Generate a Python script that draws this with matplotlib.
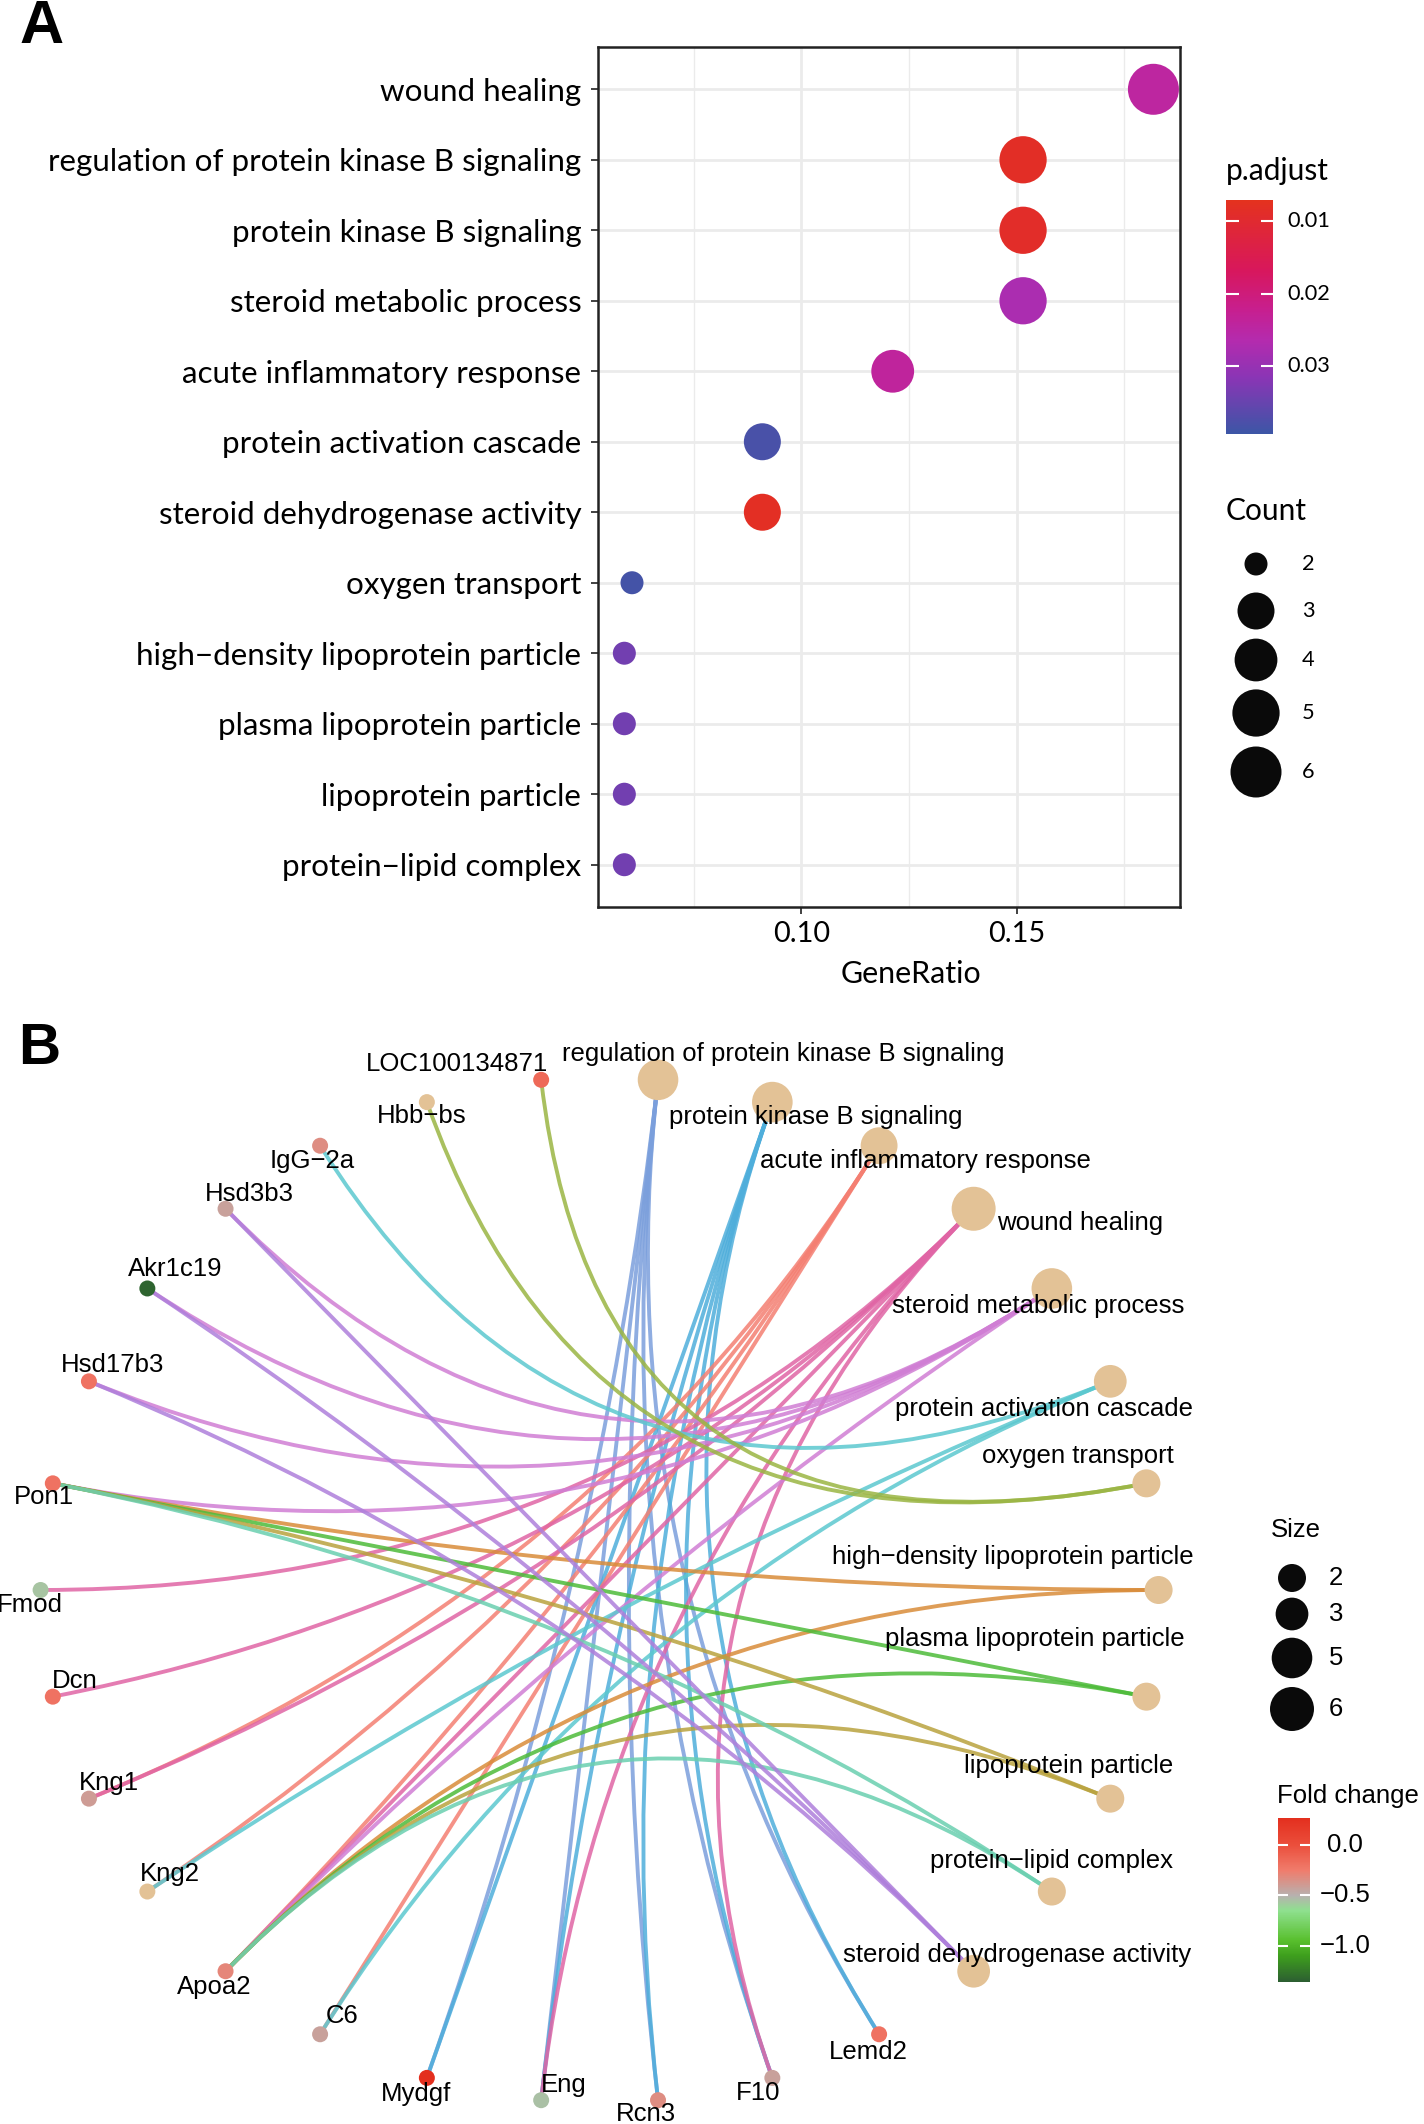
import numpy as np
import matplotlib
matplotlib.use("Agg")
import matplotlib.pyplot as plt
from matplotlib.colors import LinearSegmentedColormap, Normalize
from matplotlib.path import Path
from matplotlib.patches import PathPatch
import matplotlib.cm as cm

W, H, DPI = 1424, 2124, 100

# ---------------- data ----------------
# enrichment table (panel A, top to bottom)
description = ["wound healing",
               "regulation of protein kinase B signaling",
               "protein kinase B signaling",
               "steroid metabolic process",
               "acute inflammatory response",
               "protein activation cascade",
               "steroid dehydrogenase activity",
               "oxygen transport",
               "high\u2212density lipoprotein particle",
               "plasma lipoprotein particle",
               "lipoprotein particle",
               "protein\u2212lipid complex"]
gene_ratio = ["6/33", "5/33", "5/33", "5/33", "4/33", "3/33", "3/33", "2/33",
              "2/34", "2/34", "2/34", "2/34"]
p_adjust = [0.0245, 0.0085, 0.0088, 0.0275, 0.0240, 0.0380, 0.0082, 0.0385,
            0.0340, 0.0340, 0.0340, 0.0340]
gene_id = ["Fmod/Dcn/Kng1/Apoa2/Eng/F10",
           "Mydgf/Eng/Rcn3/F10/Lemd2",
           "Mydgf/Eng/Rcn3/F10/Lemd2",
           "Hsd3b3/Akr1c19/Hsd17b3/Pon1/Apoa2",
           "Kng1/Kng2/Apoa2/C6",
           "IgG-2a/Kng2/C6",
           "Hsd3b3/Akr1c19/Hsd17b3",
           "LOC100134871/Hbb-bs",
           "Pon1/Apoa2",
           "Pon1/Apoa2",
           "Pon1/Apoa2",
           "Pon1/Apoa2"]

# network (panel B): node order around the circle
cnet_terms = ["regulation of protein kinase B signaling",
              "protein kinase B signaling",
              "acute inflammatory response",
              "wound healing",
              "steroid metabolic process",
              "protein activation cascade",
              "oxygen transport",
              "high\u2212density lipoprotein particle",
              "plasma lipoprotein particle",
              "lipoprotein particle",
              "protein\u2212lipid complex",
              "steroid dehydrogenase activity"]
cnet_genes = ["Lemd2", "F10", "Rcn3", "Eng", "Mydgf", "C6", "Apoa2", "Kng2",
              "Kng1", "Dcn", "Fmod", "Pon1", "Hsd17b3", "Akr1c19", "Hsd3b3",
              "IgG-2a", "Hbb-bs", "LOC100134871"]
fold_change = [-0.20, -0.43, -0.33, -0.55, 0.27, -0.43, -0.30, np.nan,
               -0.40, -0.20, -0.56, -0.20, -0.20, -1.33, -0.43,
               -0.33, np.nan, -0.15]

# ---------------- styles ----------------
edge_colors = {
    "regulation of protein kinase B signaling": "#7B9FDC",
    "protein kinase B signaling": "#4FAEDB",
    "acute inflammatory response": "#F47F72",
    "wound healing": "#E065A5",
    "steroid metabolic process": "#D07ED4",
    "protein activation cascade": "#5CC8CF",
    "oxygen transport": "#9AB543",
    "high\u2212density lipoprotein particle": "#D98C3A",
    "plasma lipoprotein particle": "#4DBB3A",
    "lipoprotein particle": "#B9A23E",
    "protein\u2212lipid complex": "#6ACFB0",
    "steroid dehydrogenase activity": "#AE7FDB",
}
# label offsets in pixels (dx right, dy down)
term_label_off = {
    "regulation of protein kinase B signaling": (125, -26),
    "protein kinase B signaling": (43, 15),
    "acute inflammatory response": (46, 15),
    "wound healing": (106, 14),
    "steroid metabolic process": (-14, 18),
    "protein activation cascade": (-66, 28),
    "oxygen transport": (-69, -27),
    "high\u2212density lipoprotein particle": (-146, -33),
    "plasma lipoprotein particle": (-112, -58),
    "lipoprotein particle": (-42, -33),
    "protein\u2212lipid complex": (0, -31),
    "steroid dehydrogenase activity": (43, -16),
}
gene_label_off = {
    "LOC100134871": (-84, -16), "Hbb-bs": (-5, 14), "IgG-2a": (-8, 15),
    "Hsd3b3": (24, -15), "Akr1c19": (28, -19), "Hsd17b3": (24, -16),
    "Pon1": (-9, 14), "Fmod": (-11, 15), "Dcn": (22, -16), "Kng1": (20, -16),
    "Kng2": (23, -18), "Apoa2": (-11, 16), "C6": (22, -18), "Mydgf": (-11, 16),
    "Eng": (23, -15), "Rcn3": (-12, 14), "F10": (-14, 15), "Lemd2": (-11, 18),
}
BEIGE = "#E3C296"

fig = plt.figure(figsize=(W / DPI, H / DPI), dpi=DPI)
fig.patch.set_facecolor("white")
renderer = fig.canvas.get_renderer()


def px_axes(x0, y0, x1, y1):
    return fig.add_axes([x0 / W, 1 - y1 / H, (x1 - x0) / W, (y1 - y0) / H])


def fit(text, family, target, weight="normal"):
    t = fig.text(0, 0, text, fontsize=20, family=family, weight=weight)
    w = t.get_window_extent(renderer=renderer).width
    t.remove()
    return 20 * target / w


def ftext(x, y, s, **kw):
    return fig.text(x / W, 1 - y / H, s, **kw)


FA = ["Lato", "DejaVu Sans"]
FB = ["Liberation Sans", "DejaVu Sans"]

fs_ylab = fit("regulation of protein kinase B signaling", FA, 535)
fs_xtick = fit("0.10", FA, 57)
fs_xtitle = fit("GeneRatio", FA, 141)
fs_legt = fit("p.adjust", FA, 103)
fs_legl = fit("0.01", FA, 43)
fs_B = fit("LOC100134871", FB, 182)

# ---------------- panel A ----------------
count = np.array([len(g.split("/")) for g in gene_id])
ratio = np.array([int(a) / int(b) for a, b in (r.split("/") for r in gene_ratio)])
nA = len(description)
ypos = np.arange(nA)[::-1] + 1


def dot_d(c):
    return 23 + 28 * np.sqrt((np.asarray(c, float) - 2) / 4)


cmap_p = LinearSegmentedColormap.from_list(
    "padj", [(0, "#E4321E"), (0.3, "#D8175C"), (0.47, "#C71F8F"),
             (0.6, "#B42BAE"), (0.76, "#8A35B5"), (1, "#3C56A6")])
norm_p = Normalize(0.00712, 0.0393)

axA = px_axes(598, 47, 1180, 907)
axA.set_xlim(0.0527, 0.1880)
axA.set_ylim(0.4, nA + 0.6)
axA.set_xticks([0.10, 0.15])
axA.set_xticks([0.075, 0.125, 0.175], minor=True)
axA.set_xticklabels(["0.10", "0.15"], fontsize=fs_xtick, family=FA)
axA.set_yticks(ypos)
axA.set_yticklabels(description, fontsize=fs_ylab, family=FA)
axA.grid(which="major", color="#EBEBEB", lw=2.0)
axA.grid(which="minor", axis="x", color="#EBEBEB", lw=1.0)
axA.set_axisbelow(True)
axA.tick_params(axis="both", which="major", length=5, width=1.3, color="#333333")
axA.tick_params(axis="y", pad=7)
axA.tick_params(axis="x", pad=5)
axA.tick_params(which="minor", length=0)
for sp in axA.spines.values():
    sp.set_linewidth(1.8)
    sp.set_color("#222222")
axA.scatter(ratio, ypos, s=(dot_d(count) * 72 / DPI) ** 2, c=p_adjust,
            cmap=cmap_p, norm=norm_p, edgecolors="none", zorder=3)
ftext(911, 974, "GeneRatio", ha="center", va="center", fontsize=fs_xtitle, family=FA)
ftext(19, 43, "A", ha="left", va="baseline", fontsize=44, family=FB, weight="bold")

# p.adjust colourbar
cax = px_axes(1226, 200, 1273, 434)
cb = fig.colorbar(cm.ScalarMappable(norm=norm_p, cmap=cmap_p), cax=cax)
cb.outline.set_visible(False)
cb.set_ticks([0.01, 0.02, 0.03])
cb.minorticks_off()
cax.invert_yaxis()
cax.tick_params(direction="in", colors="white", length=9, width=1.5,
                left=True, right=True, labelleft=False, labelright=False)
ftext(1226, 171, "p.adjust", ha="left", va="center", fontsize=fs_legt, family=FA)
for v in [0.01, 0.02, 0.03]:
    yv = 200 + (v - norm_p.vmin) / (norm_p.vmax - norm_p.vmin) * 234
    ftext(1287, yv, f"{v:.2f}", ha="left", va="center", fontsize=fs_legl, family=FA)

# Count legend
ftext(1226, 511, "Count", ha="left", va="center", fontsize=fs_legt, family=FA)
leg = fig.add_axes([0, 0, 1, 1], facecolor="none")
leg.set_xlim(0, W)
leg.set_ylim(H, 0)
leg.axis("off")
count_keys = [2, 3, 4, 5, 6]
count_key_y = [564, 611, 660, 713, 772]
leg.scatter([1256] * 5, count_key_y, s=(dot_d(count_keys) * 72 / DPI) ** 2,
            color="#0A0A0A", edgecolors="none")
for k, yk in zip(count_keys, count_key_y):
    ftext(1302, yk, str(k), ha="left", va="center", fontsize=fs_legl, family=FA)

# ---------------- panel B ----------------
cx, cy, rx, ry = 599.6, 1590, 559, 513
axB = px_axes(0, 1040, W, H)
axB.set_xlim((0 - cx) / rx, (W - cx) / rx)
axB.set_ylim((cy - H) / ry, (cy - 1040) / ry)
axB.axis("off")

nodes = cnet_terms + cnet_genes
theta = np.deg2rad(84 - 360 / len(nodes) * np.arange(len(nodes)))
pos = {n: (np.cos(t), np.sin(t)) for n, t in zip(nodes, theta)}

term_genes = dict(zip(description, gene_id))
for term in cnet_terms:
    for g in term_genes[term].split("/"):
        p0, p1 = pos[term], pos[g]
        path = Path([p0, (0, 0), p1], [Path.MOVETO, Path.CURVE3, Path.CURVE3])
        axB.add_patch(PathPatch(path, fill=False, ec=edge_colors[term], lw=2.8,
                                alpha=0.85, capstyle="round", zorder=1))


def node_d(c):
    return np.sqrt(208 + 288 * np.asarray(c, float))


term_count = np.array([len(term_genes[t].split("/")) for t in cnet_terms])
tx = [pos[t][0] for t in cnet_terms]
ty = [pos[t][1] for t in cnet_terms]
axB.scatter(tx, ty, s=(node_d(term_count) * 72 / DPI) ** 2, color=BEIGE,
            edgecolors="none", zorder=3)

fc_stops = [(-1.36, "#2C5E31"), (-1.1, "#3E9F1D"), (-0.95, "#58BF2D"),
            (-0.65, "#8FE08F"), (-0.5, "#B7B1AF"), (-0.25, "#F07C6C"),
            (0.0, "#EB4F3C"), (0.27, "#E32F1E")]
fc_min, fc_max = -1.36, 0.27
cmap_fc = LinearSegmentedColormap.from_list(
    "fc", [((v - fc_min) / (fc_max - fc_min), c) for v, c in fc_stops])
cmap_fc.set_bad(BEIGE)
norm_fc = Normalize(fc_min, fc_max)
gx = [pos[g][0] for g in cnet_genes]
gy = [pos[g][1] for g in cnet_genes]
gcol = [BEIGE if np.isnan(v) else cmap_fc(norm_fc(v)) for v in fold_change]
axB.scatter(gx, gy, s=(16 * 72 / DPI) ** 2, color=gcol, edgecolors="none", zorder=3)

for t in cnet_terms:
    dx, dy = term_label_off[t]
    axB.annotate(t, pos[t], xytext=(dx, -dy), textcoords="offset pixels",
                 ha="center", va="center", fontsize=fs_B, family=FB, zorder=4,
                 annotation_clip=False)
for g in cnet_genes:
    dx, dy = gene_label_off[g]
    axB.annotate(g.replace("-", "\u2212"), pos[g], xytext=(dx, -dy),
                 textcoords="offset pixels", ha="center", va="center",
                 fontsize=fs_B, family=FB, zorder=4, annotation_clip=False)

ftext(18, 1064, "B", ha="left", va="baseline", fontsize=42, family=FB, weight="bold")

# Size legend
ftext(1271, 1530, "Size", ha="left", va="center", fontsize=fs_B, family=FB)
size_keys = [2, 3, 5, 6]
size_key_y = [1578, 1614, 1658, 1709]
leg.scatter([1292] * 4, size_key_y, s=(node_d(size_keys) * 72 / DPI) ** 2,
            color="#0A0A0A", edgecolors="none")
for k, yk in zip(size_keys, size_key_y):
    ftext(1336, yk, str(k), ha="center", va="center", fontsize=fs_B, family=FB)

# Fold change colourbar
ftext(1277, 1796, "Fold change", ha="left", va="center", fontsize=fs_B, family=FB)
cax2 = px_axes(1278, 1818, 1310, 1982)
cb2 = fig.colorbar(cm.ScalarMappable(norm=norm_fc, cmap=cmap_fc), cax=cax2)
cb2.outline.set_visible(False)
cb2.set_ticks([0.0, -0.5, -1.0])
cb2.minorticks_off()
cax2.tick_params(direction="in", colors="white", length=7, width=1.5,
                 left=True, right=True, labelleft=False, labelright=False)
for v in [0.0, -0.5, -1.0]:
    yv = 1818 + (fc_max - v) / (fc_max - fc_min) * 164
    ftext(1345, yv, f"{v:.1f}".replace("-", "\u2212"), ha="center", va="center",
          fontsize=fs_B, family=FB)

fig.savefig("out.png", dpi=DPI, facecolor="white")
